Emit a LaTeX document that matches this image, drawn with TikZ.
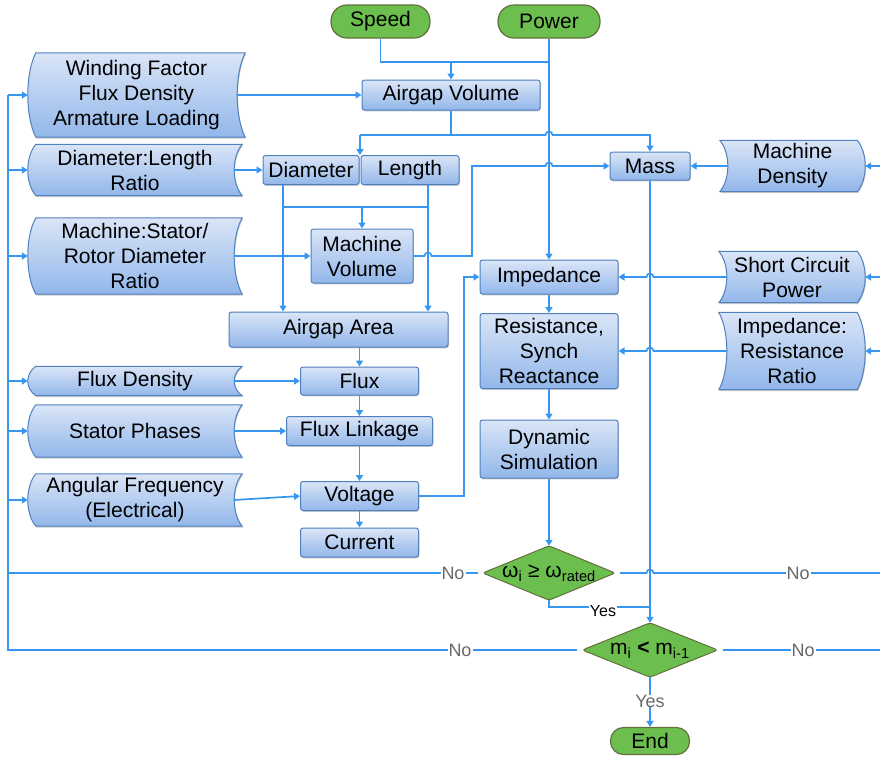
\documentclass[tikz,border=0pt]{standalone}
\usepackage{fontspec}
\setmainfont{Liberation Sans}
\usetikzlibrary{calc,shadows,arrows.meta}
\definecolor{lnblue}{RGB}{55,150,240}
\definecolor{boxtop}{RGB}{218,229,247}
\definecolor{boxbot}{RGB}{146,183,234}
\definecolor{boxedge}{RGB}{80,128,190}
\definecolor{grfill}{RGB}{108,190,78}
\definecolor{gredge}{RGB}{98,112,60}
\definecolor{lblgray}{RGB}{105,105,105}
\pgfdeclarelayer{bg}
\pgfsetlayers{bg,main}
\newcommand\sdleft[1]{%
\path[sdshape]
 ($(#1.north west)+(8pt,0pt)$) -- (#1.north east)
 .. controls ($(#1.north east)!0.25!(#1.south east)+(-10.7pt,0pt)$) and ($(#1.north east)!0.75!(#1.south east)+(-10.7pt,0pt)$) .. (#1.south east)
 -- ($(#1.south west)+(8pt,0pt)$)
 .. controls ($(#1.south west)!0.25!(#1.north west)+(-2.7pt,0pt)$) and ($(#1.south west)!0.75!(#1.north west)+(-2.7pt,0pt)$) .. cycle;}
\newcommand\sdright[1]{%
\path[sdshape]
 (#1.north west) -- ($(#1.north east)+(-8pt,0pt)$)
 .. controls ($(#1.north east)!0.25!(#1.south east)+(2.7pt,0pt)$) and ($(#1.north east)!0.75!(#1.south east)+(2.7pt,0pt)$) .. ($(#1.south east)+(-8pt,0pt)$)
 -- (#1.south west)
 .. controls ($(#1.south west)!0.25!(#1.north west)+(10.7pt,0pt)$) and ($(#1.south west)!0.75!(#1.north west)+(10.7pt,0pt)$) .. cycle;}
\newcommand\dmdshape[1]{%
\path[dshape] (#1.north) -- (#1.east) -- (#1.south) -- (#1.west) -- cycle;}
\begin{document}
\begin{tikzpicture}[x=1pt,y=-1pt,
 every node/.style={font=\fontsize{21}{25}\selectfont, align=center, inner sep=0pt},
 shad/.style={drop shadow={shadow xshift=0.8pt,shadow yshift=-1.3pt,opacity=0.3,fill=black!70}},
 bbox/.style={rectangle, rounded corners=2.5pt, draw=boxedge, line width=1pt, top color=boxtop, bottom color=boxbot, shad},
 sdnode/.style={rectangle},
 sdshape/.style={draw=boxedge, line width=1pt, top color=boxtop, bottom color=boxbot, shad},
 pill/.style={rectangle, rounded corners=16pt, draw=gredge, line width=1.2pt, fill=grfill},
 dshape/.style={draw=gredge, line width=1pt, fill=grfill, rounded corners=3pt},
 ln/.style={draw=lnblue, line width=1.7pt},
 arr/.style={ln, -{Triangle[width=7pt,length=6pt]}},
 nolbl/.style={font=\fontsize{18}{20}\selectfont, text=lblgray, fill=white, inner xsep=1pt},
 yeslbl/.style={font=\fontsize{16}{18}\selectfont, text=black, fill=white, inner xsep=1pt},
]
\useasboundingbox (0,0) rectangle (880,756);

% nodes
\node[pill, minimum width=99, minimum height=33] (speed) at (380.5,21.5) {Speed};
\node[pill, minimum width=102, minimum height=33] (power) at (549,21.5) {Power};
\node[sdnode, minimum width=217, minimum height=84] (wf) at (136.5,95) {Winding Factor\\Flux Density\\Armature Loading};
\node[bbox, minimum width=178, minimum height=30] (agv) at (451,95) {Airgap Volume};
\node[sdnode, minimum width=214, minimum height=51] (dlr) at (135,170) {Diameter:Length\\Ratio};
\node[bbox, minimum width=96, minimum height=29] (dia) at (311,170) {Diameter};
\node[bbox, minimum width=98, minimum height=29] (len) at (410,170) {Length};
\node[bbox, minimum width=80, minimum height=28] (mass) at (650,166) {Mass};
\node[sdnode, minimum width=145, minimum height=51] (mden) at (792.5,166) {Machine\\Density};
\node[sdnode, minimum width=214, minimum height=76] (msr) at (135,256) {Machine:Stator/\\Rotor Diameter\\Ratio};
\node[bbox, minimum width=102, minimum height=54] (mv) at (362,256) {Machine\\Volume};
\node[bbox, minimum width=138, minimum height=34] (imp) at (549,277) {Impedance};
\node[sdnode, minimum width=146, minimum height=51] (scp) at (792,277) {Short Circuit\\Power};
\node[bbox, minimum width=219, minimum height=35] (aa) at (338.5,329.5) {Airgap Area};
\node[bbox, minimum width=138, minimum height=75] (rsr) at (549,351) {Resistance,\\Synch\\Reactance};
\node[sdnode, minimum width=146, minimum height=77] (irr) at (792,351) {Impedance:\\Resistance\\Ratio};
\node[sdnode, minimum width=214, minimum height=29] (fd) at (135,381) {Flux Density};
\node[bbox, minimum width=118, minimum height=28] (flux) at (359.5,381) {Flux};
\node[sdnode, minimum width=214, minimum height=52] (sp) at (135,431) {Stator Phases};
\node[bbox, minimum width=146, minimum height=29] (fl) at (359.5,431) {Flux Linkage};
\node[bbox, minimum width=138, minimum height=58] (dyn) at (549,449) {Dynamic\\Simulation};
\node[sdnode, minimum width=214, minimum height=52] (af) at (135,500) {Angular Frequency\\(Electrical)};
\node[bbox, minimum width=118, minimum height=29] (volt) at (359.5,496) {Voltage};
\node[bbox, minimum width=118, minimum height=29] (cur) at (359.5,542.5) {Current};
\node[minimum width=132, minimum height=54] (wd) at (549,573) {ω\textsubscript{i} ≥ ω\textsubscript{rated}};
\node[minimum width=135, minimum height=54] (mdia) at (650,650) {m\textsubscript{i} \textbf{<} m\textsubscript{i-1}};
\node[pill, minimum width=79, minimum height=27, rounded corners=13pt] (fin) at (650,741) {End};

\begin{pgfonlayer}{bg}
\sdleft{wf}\sdleft{dlr}\sdleft{msr}\sdleft{fd}\sdleft{sp}\sdleft{af}
\sdright{mden}\sdright{scp}\sdright{irr}
\dmdshape{wd}\dmdshape{mdia}
\end{pgfonlayer}

% coordinates
\coordinate (j1) at (549,62);
\coordinate (j2) at (451,135);
\coordinate (dl) at ($(dia.north east)!0.5!(len.north west)$);
\coordinate (j3) at (283,207);
\coordinate (j4) at (428,207);
\coordinate (L1) at (8,650);
\coordinate (R1) at (880,573);
\coordinate (R2) at (880,650);

% top
\draw[ln] (speed.south) |- (j1);
\draw[arr] (agv.north |- j1) -- (agv.north);
\draw[arr] (power.south) -- (imp.north);
\draw[arr] ([xshift=-8pt]wf.east) -- (agv.west);
\draw[ln] (agv.south) -- (j2);
\draw[arr] (dl |- j2) -- (dl);
\draw[arr] (dl |- j2) -- (545.5,135) arc[start angle=180,end angle=0,radius=3.5pt] -- (650,135) -- (mass.north);
\draw[arr] ([xshift=-8pt]dlr.east) -- (dia.west);
\draw[arr] (dia.south -| j3) -- (aa.north -| j3);
\draw[arr] (len.south -| j4) -- (aa.north -| j4);
\draw[ln] (j3) -- (j4);
\draw[arr] (j3 -| mv.north) -- (mv.north);
\draw[arr] ([xshift=-8pt]msr.east) -- (mv.west);
\draw[arr] (mv.east) -- (424.5,256) arc[start angle=180,end angle=0,radius=3.5pt] -- (472,256) -- (472,166) -- (545.5,166) arc[start angle=180,end angle=0,radius=3.5pt] -- (mass.west);
\draw[arr] ([xshift=8pt]mden.west) -- (mass.east);
\draw[arr] (mass.south) -- (mdia.north);

% impedance chain
\draw[arr] ([xshift=8pt]scp.west) -- (653.5,277) arc[start angle=0,end angle=180,radius=3.5pt] -- (imp.east);
\draw[arr] ([xshift=8pt]irr.west) -- (653.5,351) arc[start angle=0,end angle=180,radius=3.5pt] -- (rsr.east);
\draw[arr] (imp.south) -- (rsr.north);
\draw[arr] (rsr.south) -- (dyn.north);
\draw[arr] (dyn.south) -- (wd.north);

% flux chain
\draw[arr] (aa.south -| flux.north) -- (flux.north);
\draw[arr] ([xshift=-8pt]fd.east) -- (flux.west);
\draw[arr] (flux.south) -- (fl.north);
\draw[arr] ([xshift=-8pt]sp.east) -- (fl.west);
\draw[arr] (fl.south) -- (volt.north);
\draw[arr] ([xshift=-8pt]af.east) -- (volt.west);
\draw[arr] (volt.south) -- (cur.north);
\draw[arr] (volt.east) -- (464,496) -- (464,277) -- (imp.west);

% feedback left
\draw[ln] ([xshift=-5pt]wd.west) -- (wd.west -| L1);
\draw[ln] ([xshift=-5pt]mdia.west) -- (L1) -- (wf.west -| L1);
\draw[arr] (wf.west -| L1) -- (wf.west);
\draw[arr] (dlr.west -| L1) -- (dlr.west);
\draw[arr] (msr.west -| L1) -- (msr.west);
\draw[arr] (fd.west -| L1) -- (fd.west);
\draw[arr] (sp.west -| L1) -- (sp.west);
\draw[arr] (af.west -| L1) -- (af.west);

% feedback right
\draw[ln] ([xshift=5pt]wd.east) -- (646.5,573) arc[start angle=180,end angle=0,radius=3.5pt] -- (R1);
\draw[ln] ([xshift=5pt]mdia.east) -- (R2);
\draw[arr] (mden.east -| R2) -- (mden.east);
\draw[arr] (scp.east -| R2) -- (scp.east);
\draw[arr] (irr.east -| R2) -- (irr.east);

% yes paths
\draw[ln] (wd.south) -- (549,607) -- (650,607);
\draw[arr] (mdia.south) -- (fin.north);

% labels
\node[nolbl] (no1) at (453,573) {No};
\node[nolbl] (no2) at (798,573) {No};
\node[nolbl] (no3) at (460,650) {No};
\node[nolbl] (no4) at (803,650) {No};
\node[nolbl] (yes2) at (650,701) {Yes};
\node[yeslbl] (yes1) at (603,611) {Yes};
\end{tikzpicture}
\end{document}
